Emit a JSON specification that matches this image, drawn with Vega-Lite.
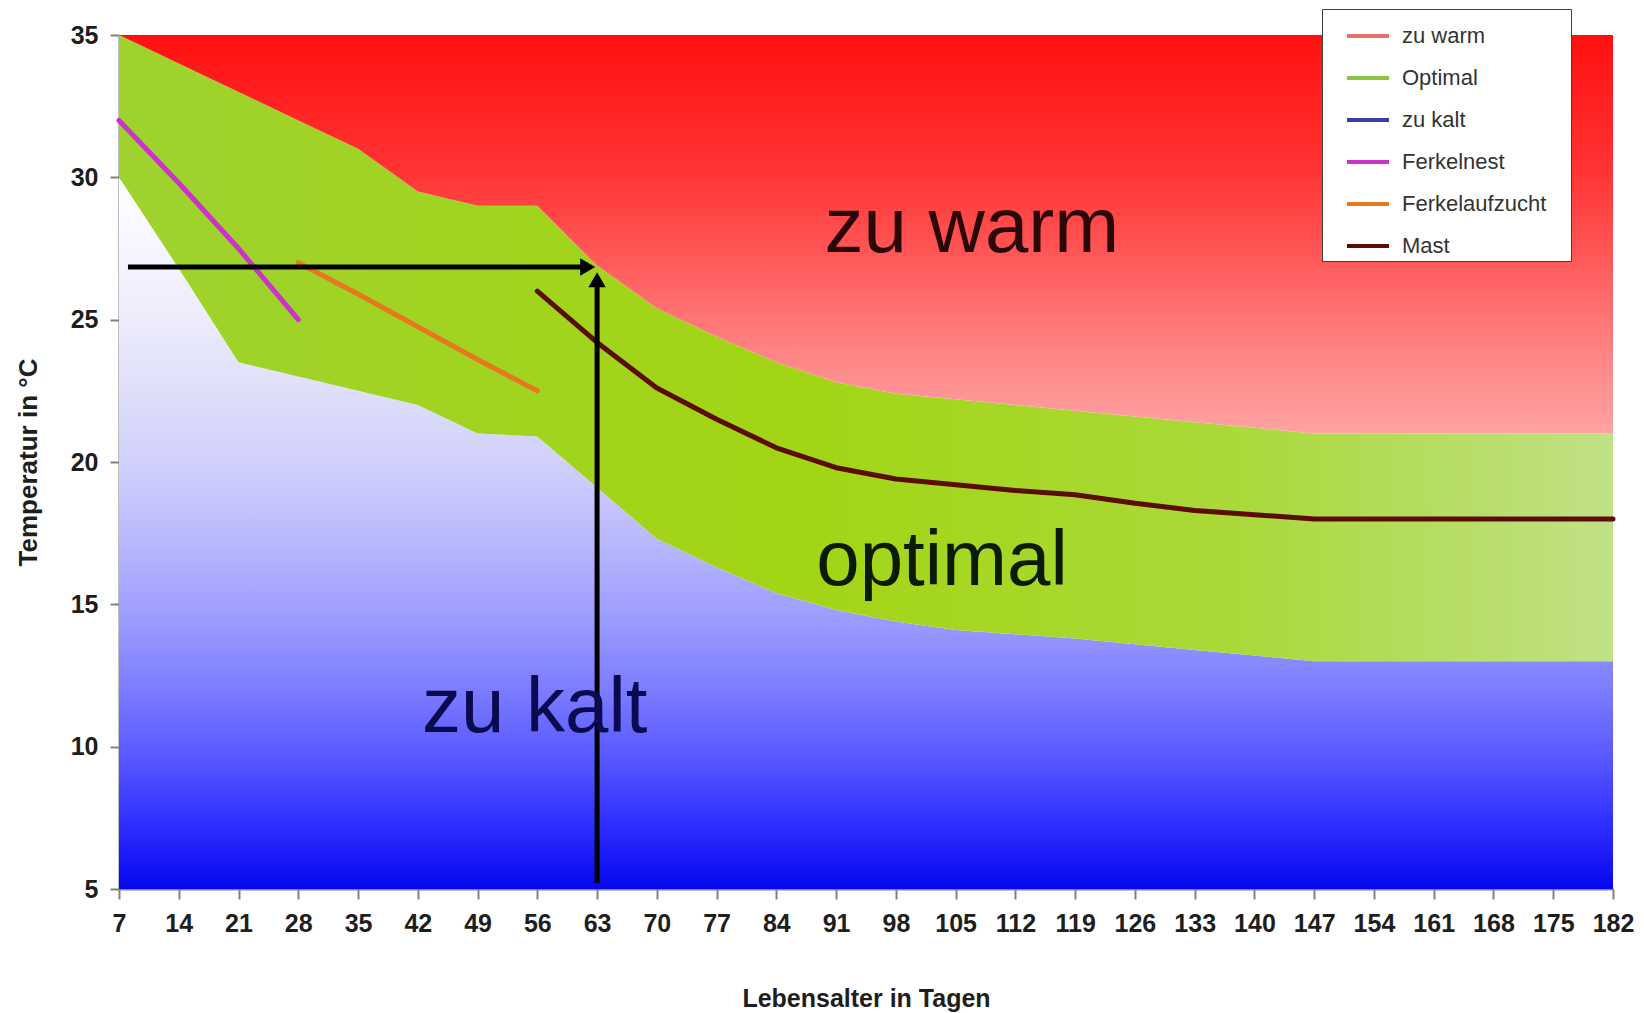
{
  "$schema": "https://vega.github.io/schema/vega-lite/v6.json",
  "width": 1494,
  "height": 854,
  "autosize": "none",
  "padding": {"left": 119, "top": 35, "right": 31, "bottom": 124},
  "background": "white",
  "config": {
    "view": {"stroke": null},
    "font": "Liberation Sans"
  },
  "datasets": {
    "band": [
      {"day": 7, "lo": 30, "hi": 35},
      {"day": 14, "lo": 26.8, "hi": 34},
      {"day": 21, "lo": 23.5, "hi": 33},
      {"day": 28, "lo": 23, "hi": 32},
      {"day": 35, "lo": 22.5, "hi": 31},
      {"day": 42, "lo": 22, "hi": 29.5},
      {"day": 49, "lo": 21, "hi": 29},
      {"day": 56, "lo": 20.9, "hi": 29},
      {"day": 63, "lo": 19.1, "hi": 26.9},
      {"day": 70, "lo": 17.3, "hi": 25.4},
      {"day": 77, "lo": 16.3, "hi": 24.4},
      {"day": 84, "lo": 15.4, "hi": 23.5},
      {"day": 91, "lo": 14.8, "hi": 22.8},
      {"day": 98, "lo": 14.4, "hi": 22.4},
      {"day": 105, "lo": 14.1, "hi": 22.2},
      {"day": 112, "lo": 13.95, "hi": 22},
      {"day": 119, "lo": 13.8, "hi": 21.8},
      {"day": 126, "lo": 13.6, "hi": 21.6},
      {"day": 133, "lo": 13.4, "hi": 21.4},
      {"day": 140, "lo": 13.2, "hi": 21.2},
      {"day": 147, "lo": 13, "hi": 21},
      {"day": 154, "lo": 13, "hi": 21},
      {"day": 161, "lo": 13, "hi": 21},
      {"day": 168, "lo": 13, "hi": 21},
      {"day": 175, "lo": 13, "hi": 21},
      {"day": 182, "lo": 13, "hi": 21}
    ],
    "lines": [
      {"series": "Ferkelnest", "day": 7, "temp": 32},
      {"series": "Ferkelnest", "day": 14, "temp": 29.8},
      {"series": "Ferkelnest", "day": 21, "temp": 27.5},
      {"series": "Ferkelnest", "day": 28, "temp": 25},
      {"series": "Ferkelaufzucht", "day": 28, "temp": 27},
      {"series": "Ferkelaufzucht", "day": 35, "temp": 25.9},
      {"series": "Ferkelaufzucht", "day": 42, "temp": 24.75},
      {"series": "Ferkelaufzucht", "day": 49, "temp": 23.6},
      {"series": "Ferkelaufzucht", "day": 56, "temp": 22.5},
      {"series": "Mast", "day": 56, "temp": 26},
      {"series": "Mast", "day": 63, "temp": 24.2},
      {"series": "Mast", "day": 70, "temp": 22.6},
      {"series": "Mast", "day": 77, "temp": 21.5},
      {"series": "Mast", "day": 84, "temp": 20.5},
      {"series": "Mast", "day": 91, "temp": 19.8},
      {"series": "Mast", "day": 98, "temp": 19.4},
      {"series": "Mast", "day": 105, "temp": 19.2},
      {"series": "Mast", "day": 112, "temp": 19.0},
      {"series": "Mast", "day": 119, "temp": 18.85},
      {"series": "Mast", "day": 126, "temp": 18.55},
      {"series": "Mast", "day": 133, "temp": 18.3},
      {"series": "Mast", "day": 140, "temp": 18.15},
      {"series": "Mast", "day": 147, "temp": 18},
      {"series": "Mast", "day": 154, "temp": 18},
      {"series": "Mast", "day": 161, "temp": 18},
      {"series": "Mast", "day": 168, "temp": 18},
      {"series": "Mast", "day": 175, "temp": 18},
      {"series": "Mast", "day": 182, "temp": 18}
    ],
    "arrows": [
      {"x": 8.05, "y": 26.85, "x2": 61.9, "y2": 26.85},
      {"x": 63, "y": 5.2, "x2": 63, "y2": 26.4}
    ],
    "heads": [
      {"x": 61.9, "y": 26.85, "dir": "triangle-right"},
      {"x": 63, "y": 26.4, "dir": "triangle-up"}
    ],
    "labels": [
      {"x": 106.9, "y": 27.38, "text": "zu warm", "c": "w"},
      {"x": 103.4, "y": 15.68, "text": "optimal", "c": "o"},
      {"x": 55.7, "y": 10.52, "text": "zu kalt", "c": "k"}
    ]
  },
  "encoding": {
    "x": {
      "type": "quantitative",
      "scale": {"domain": [7, 182], "nice": false, "zero": false},
      "axis": {
        "title": "Lebensalter in Tagen",
        "values": [7,14,21,28,35,42,49,56,63,70,77,84,91,98,105,112,119,126,133,140,147,154,161,168,175,182],
        "grid": false,
        "domainColor": "#808080",
        "domainWidth": 2,
        "tickColor": "#808080",
        "tickWidth": 2,
        "tickSize": 10,
        "labelPadding": 12,
        "labelFontSize": 25,
        "labelFontWeight": "bold",
        "labelColor": "#1e1e1e",
        "labelFont": "Liberation Sans",
        "labelFlush": false,
        "titleFontSize": 25,
        "titleFontWeight": "bold",
        "titleColor": "#1e1e1e",
        "titleFont": "Liberation Sans",
        "titleY": 109,
        "titleBaseline": "middle"
      }
    },
    "y": {
      "type": "quantitative",
      "scale": {"domain": [5, 35], "nice": false, "zero": false},
      "axis": {
        "title": "Temperatur in °C",
        "values": [5,10,15,20,25,30,35],
        "grid": false,
        "domainColor": "#808080",
        "domainWidth": 2,
        "tickColor": "#808080",
        "tickWidth": 2,
        "tickSize": 9,
        "labelPadding": 12,
        "labelFontSize": 25,
        "labelFontWeight": "bold",
        "labelColor": "#1e1e1e",
        "labelFont": "Liberation Sans",
        "labelFlush": false,
        "titleFontSize": 26,
        "titleFontWeight": "bold",
        "titleColor": "#1e1e1e",
        "titleFont": "Liberation Sans",
        "titleX": -91,
        "titleY": 427,
        "titleAngle": -90,
        "titleAlign": "center",
        "titleBaseline": "middle"
      }
    }
  },
  "layer": [
    {
      "data": {"name": "band"},
      "mark": {
        "type": "area",
        "color": {
          "gradient": "linear", "x1": 0, "y1": 0, "x2": 0, "y2": 1,
          "stops": [
            {"offset": 0, "color": "#ffffff"},
            {"offset": 0.08, "color": "#f8f8ff"},
            {"offset": 0.2, "color": "#ececfc"},
            {"offset": 0.32, "color": "#dcdcfa"},
            {"offset": 0.42, "color": "#cdcdfb"},
            {"offset": 0.52, "color": "#b6b6fd"},
            {"offset": 0.62, "color": "#9c9cff"},
            {"offset": 0.72, "color": "#7c7cff"},
            {"offset": 0.82, "color": "#5656ff"},
            {"offset": 0.91, "color": "#2e2eff"},
            {"offset": 1, "color": "#0606ee"}
          ]
        }
      },
      "encoding": {
        "x": {"field": "day"},
        "y": {"field": "lo"},
        "y2": {"datum": 5}
      }
    },
    {
      "data": {"name": "band"},
      "mark": {
        "type": "area",
        "color": {
          "gradient": "linear", "x1": 0, "y1": 0, "x2": 1, "y2": 0,
          "stops": [
            {"offset": 0, "color": "#9fd22e"},
            {"offset": 0.45, "color": "#a2d514"},
            {"offset": 0.75, "color": "#aad93a"},
            {"offset": 1, "color": "#c0e186"}
          ]
        }
      },
      "encoding": {
        "x": {"field": "day"},
        "y": {"field": "lo"},
        "y2": {"field": "hi"}
      }
    },
    {
      "data": {"name": "band"},
      "mark": {
        "type": "area",
        "color": {
          "gradient": "linear", "x1": 0, "y1": 0, "x2": 0, "y2": 1,
          "stops": [
            {"offset": 0, "color": "#ff1010"},
            {"offset": 0.35, "color": "#ff3535"},
            {"offset": 0.6, "color": "#ff6060"},
            {"offset": 0.8, "color": "#ff8585"},
            {"offset": 1, "color": "#ffa3a3"}
          ]
        }
      },
      "encoding": {
        "x": {"field": "day"},
        "y": {"field": "hi"},
        "y2": {"datum": 35}
      }
    },
    {
      "data": {"name": "lines"},
      "mark": {"type": "line", "strokeWidth": 5, "strokeCap": "round", "strokeJoin": "round"},
      "encoding": {
        "x": {"field": "day"},
        "y": {"field": "temp"},
        "color": {
          "field": "series",
          "type": "nominal",
          "scale": {
            "domain": ["zu warm", "Optimal", "zu kalt", "Ferkelnest", "Ferkelaufzucht", "Mast"],
            "range": ["#e8706a", "#8cc63f", "#3a3aa8", "#cc33cc", "#e8781e", "#5a0c05"]
          },
          "legend": {
            "title": ".",
            "titleOrient": "right",
            "titleColor": "white",
            "titleFontSize": 10,
            "titlePadding": 18,
            "orient": "none",
            "legendX": 1203,
            "legendY": -26,
            "fillColor": "white",
            "strokeColor": "#404040",
            "padding": 4,
            "symbolType": "stroke",
            "symbolSize": 1764,
            "symbolStrokeWidth": 4,
            "symbolOffset": 19,
            "labelFontSize": 22,
            "labelFont": "Liberation Sans",
            "labelColor": "#333333",
            "labelOffset": 11,
            "rowPadding": 8
          }
        }
      }
    },
    {
      "data": {"name": "arrows"},
      "mark": {"type": "rule", "color": "black", "strokeWidth": 5},
      "encoding": {
        "x": {"field": "x"},
        "y": {"field": "y"},
        "x2": {"field": "x2"},
        "y2": {"field": "y2"}
      }
    },
    {
      "data": {"name": "heads"},
      "mark": {"type": "point", "filled": true, "color": "black", "size": 300, "opacity": 1},
      "encoding": {
        "x": {"field": "x"},
        "y": {"field": "y"},
        "shape": {"field": "dir", "type": "nominal", "scale": {"domain": ["triangle-right", "triangle-up"], "range": ["triangle-right", "triangle-up"]}, "legend": null}
      }
    },
    {
      "data": {"name": "labels"},
      "mark": {"type": "text", "fontSize": 78, "font": "Liberation Sans", "align": "center", "baseline": "alphabetic"},
      "encoding": {
        "x": {"field": "x"},
        "y": {"field": "y"},
        "text": {"field": "text"},
        "fill": {"field": "c", "type": "nominal", "scale": {"domain": ["w", "o", "k"], "range": ["#2b0808", "#0d1a05", "#0a0a50"]}, "legend": null}
      }
    }
  ]
}
